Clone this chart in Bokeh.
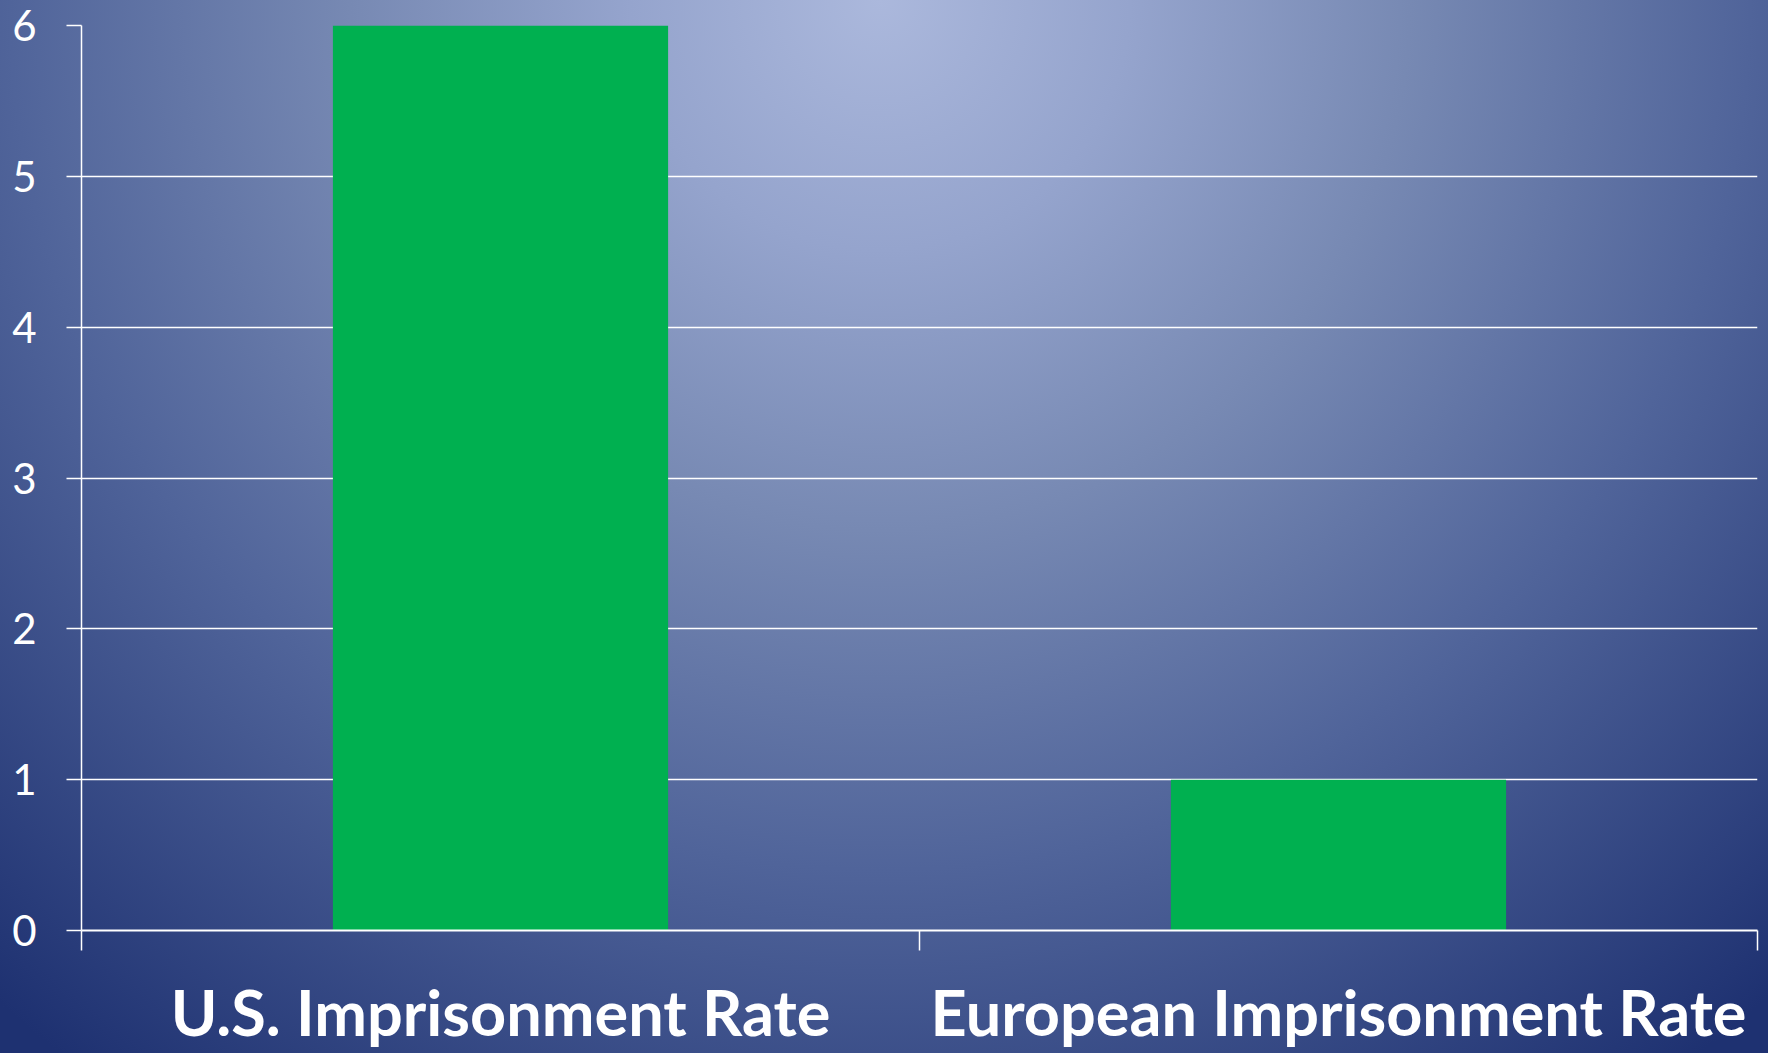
from bokeh.plotting import figure
from bokeh.models import FixedTicker, Range1d, ColumnDataSource
from bokeh.embed import file_html
from bokeh.resources import INLINE

categories = ["U.S. Imprisonment Rate", "European Imprisonment Rate"]
values = [6, 1]
y_ticks = [0, 1, 2, 3, 4, 5, 6]

positions = [i + 0.5 for i in range(len(categories))]
boundaries = list(range(len(categories) + 1))

p = figure(width=1768, height=1053, output_backend="svg", toolbar_location=None,
           x_range=Range1d(0, len(categories)), y_range=Range1d(0, max(y_ticks)),
           min_border_left=81, min_border_right=11, min_border_top=25, min_border_bottom=123)

p.background_fill_alpha = 0
p.border_fill_alpha = 0
p.outline_line_color = None
p.styles = {"background": "radial-gradient(circle at 880px 0px, #abb8dc 0px, #95a4cd 250px, #7789b3 530px, #50649a 870px, #1e3171 1335px)"}

src = ColumnDataSource(dict(x=positions, top=values))
p.vbar(x="x", top="top", width=0.4, source=src, fill_color="#00b050", line_color=None)

p.xgrid.visible = False
p.ygrid.ticker = FixedTicker(ticks=y_ticks)
p.ygrid.grid_line_color = "white"
p.ygrid.grid_line_width = 1.5
p.ygrid.grid_line_alpha = 1.0
p.ygrid.level = "underlay"

yax = p.yaxis[0]
yax.ticker = FixedTicker(ticks=y_ticks)
yax.axis_line_color = "white"
yax.axis_line_width = 1.5
yax.major_tick_line_color = "white"
yax.major_tick_line_width = 1.5
yax.major_tick_out = 15
yax.major_tick_in = 0
yax.minor_tick_line_color = None
yax.major_label_text_color = "white"
yax.major_label_text_font = "Lato"
yax.major_label_text_font_size = "42px"
yax.major_label_standoff = 30

xax = p.xaxis[0]
xax.ticker = FixedTicker(ticks=positions, minor_ticks=boundaries)
xax.major_label_overrides = {pos: cat for pos, cat in zip(positions, categories)}
xax.axis_line_color = "white"
xax.axis_line_width = 2
xax.major_tick_line_color = None
xax.major_tick_out = 0
xax.major_tick_in = 0
xax.minor_tick_line_color = "white"
xax.minor_tick_line_width = 1.5
xax.minor_tick_out = 20
xax.minor_tick_in = 0
xax.major_label_text_color = "white"
xax.major_label_text_font = "Lato"
xax.major_label_text_font_style = "bold"
xax.major_label_text_font_size = "63px"
xax.major_label_standoff = 23

open("out.html", "w").write(file_html(p, INLINE))
